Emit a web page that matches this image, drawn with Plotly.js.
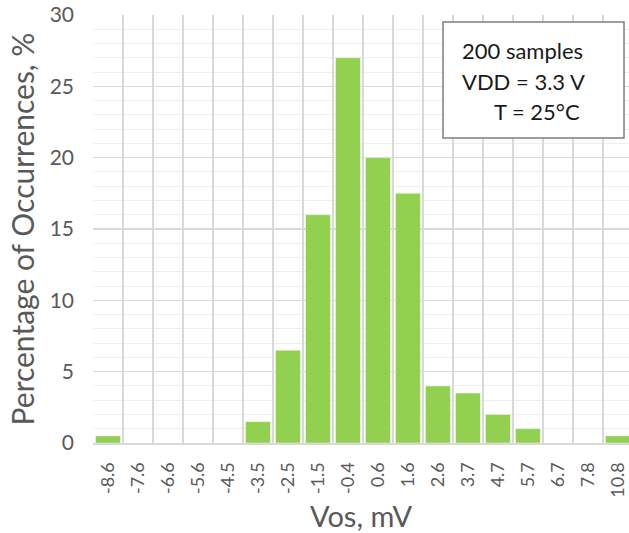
<!DOCTYPE html>
<html>
<head>
<meta charset="utf-8">
<script src="https://cdn.plot.ly/plotly-3.0.1.min.js"></script>
<style>html,body{margin:0;padding:0;overflow:hidden;background:#fff}</style>
</head>
<body>
<div id="chart" style="width:629px;height:533px"></div>
<script>
const categories = ["-8.6","-7.6","-6.6","-5.6","-4.5","-3.5","-2.5","-1.5","-0.4","0.6","1.6","2.6","3.7","4.7","5.7","6.7","7.8","10.8"];
const percentages = [0.5,0,0,0,0,1.5,6.5,16,27,20,17.5,4,3.5,2,1,0,0,0.5];
const xTitle = "Vos, mV";
const yTitle = "Percentage of Occurrences, %";
const noteLines = ["200 samples","VDD = 3.3 V","T = 25°C"];

const FONT = "Lato, 'Open Sans', sans-serif";
const GREY = "#595959";

const trace = {
  type: "bar",
  x: categories,
  y: percentages,
  marker: {color: "#92D050", line: {color: "rgba(255,255,255,0.45)", width: 1}},
  hoverinfo: "x+y"
};

const layout = {
  width: 629, height: 533,
  margin: {l: 93, r: 0, t: 15, b: 90},
  paper_bgcolor: "#ffffff",
  plot_bgcolor: "#ffffff",
  bargap: 0.167,
  showlegend: false,
  font: {family: FONT, color: GREY},
  xaxis: {
    type: "category",
    range: [-0.5, 17.37],
    tickson: "boundaries",
    showgrid: true,
    gridcolor: "#d9d9d9",
    gridwidth: 1.5,
    showline: true,
    linecolor: "#d9d9d9",
    linewidth: 2,
    ticks: "",
    tickangle: -90,
    ticklabelstandoff: 10,
    tickfont: {family: FONT, size: 18, color: GREY},
    title: {text: xTitle, font: {family: FONT, size: 29, color: GREY}, standoff: 12},
    automargin: false,
    zeroline: false,
    fixedrange: true
  },
  yaxis: {
    range: [0, 30],
    dtick: 5,
    tick0: 0,
    showgrid: true,
    gridcolor: "#d9d9d9",
    gridwidth: 1.5,
    minor: {dtick: 1, showgrid: true, gridcolor: "#efefef", gridwidth: 1},
    showline: false,
    zeroline: false,
    ticks: "",
    ticklabelstandoff: 18,
    tickfont: {family: FONT, size: 21, color: GREY},
    title: {text: yTitle, font: {family: FONT, size: 30, color: GREY}, standoff: 6},
    automargin: false,
    fixedrange: true
  },
  shapes: [{
    type: "rect", xref: "paper", yref: "paper",
    x0: 0.653, x1: 0.9907, y0: 0.7126, y1: 0.9836,
    fillcolor: "#ffffff",
    line: {color: "#7f7f7f", width: 1.5},
    layer: "above"
  }],
  annotations: [
    {text: noteLines[0], xref: "paper", yref: "paper", x: 0.6847, y: 0.9166, xanchor: "left", yanchor: "middle", showarrow: false, font: {family: FONT, size: 22, color: "#1a1a1a"}},
    {text: noteLines[1], xref: "paper", yref: "paper", x: 0.6847, y: 0.8442, xanchor: "left", yanchor: "middle", showarrow: false, font: {family: FONT, size: 22, color: "#1a1a1a"}},
    {text: noteLines[2], xref: "paper", yref: "paper", x: 0.7444, y: 0.7741, xanchor: "left", yanchor: "middle", showarrow: false, font: {family: FONT, size: 22, color: "#1a1a1a"}}
  ]
};

Plotly.newPlot("chart", [trace], layout, {displayModeBar: false, staticPlot: true});
</script>
</body>
</html>
